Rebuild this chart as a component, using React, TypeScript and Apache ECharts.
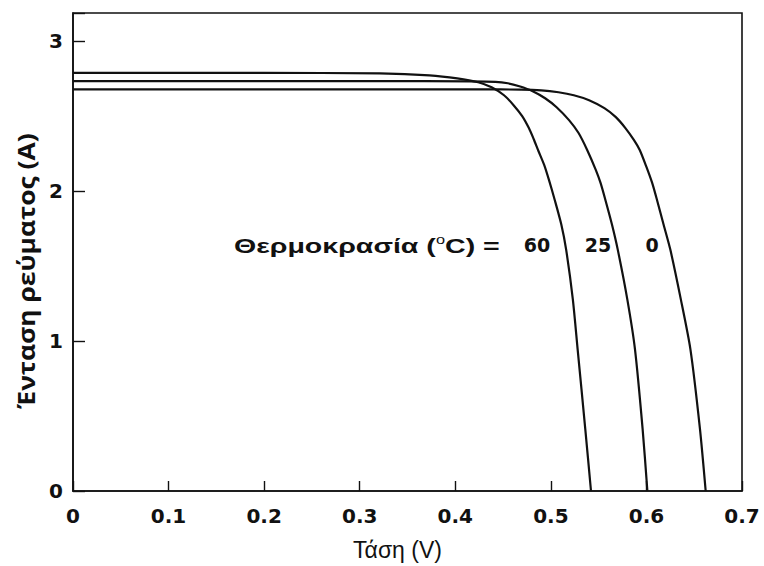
import React, { useEffect, useRef } from "react";
import * as echarts from "echarts";

// I–V curves of a solar cell at three temperatures (°C)
const temperatures = ["60", "25", "0"];

const voltage60 = [0, 0.1, 0.2, 0.321, 0.373, 0.402, 0.424, 0.438, 0.451, 0.461, 0.47, 0.477, 0.482, 0.487, 0.493, 0.498, 0.504, 0.511, 0.516, 0.523, 0.528, 0.536, 0.542];
const current60 = [2.79, 2.79, 2.79, 2.787, 2.774, 2.754, 2.728, 2.694, 2.641, 2.575, 2.502, 2.422, 2.349, 2.269, 2.176, 2.076, 1.944, 1.777, 1.611, 1.279, 0.947, 0.415, 0];

const voltage25 = [0, 0.1, 0.2, 0.321, 0.415, 0.442, 0.455, 0.467, 0.481, 0.494, 0.506, 0.519, 0.529, 0.538, 0.547, 0.552, 0.557, 0.564, 0.57, 0.58, 0.588, 0.596, 0.601];
const current25 = [2.735, 2.735, 2.735, 2.735, 2.734, 2.731, 2.721, 2.701, 2.668, 2.621, 2.561, 2.475, 2.389, 2.276, 2.143, 2.056, 1.944, 1.777, 1.611, 1.279, 0.947, 0.415, 0];

const voltage0 = [0, 0.1, 0.2, 0.3, 0.426, 0.469, 0.49, 0.508, 0.524, 0.54, 0.556, 0.568, 0.578, 0.587, 0.593, 0.6, 0.606, 0.611, 0.618, 0.625, 0.636, 0.646, 0.656, 0.662];
const current0 = [2.68, 2.68, 2.68, 2.68, 2.68, 2.679, 2.674, 2.661, 2.641, 2.608, 2.555, 2.495, 2.422, 2.342, 2.276, 2.163, 2.056, 1.944, 1.777, 1.611, 1.279, 0.947, 0.415, 0];

const xTicks = [0, 0.1, 0.2, 0.3, 0.4, 0.5, 0.6, 0.7];
const yTicks = [0, 1, 2, 3];

const seriesData = [
  { name: temperatures[0], v: voltage60, i: current60 },
  { name: temperatures[1], v: voltage25, i: current25 },
  { name: temperatures[2], v: voltage0, i: current0 },
];

const LABEL_FONT = "'DejaVu Sans', sans-serif";
const ARIAL = "'Liberation Sans', Arial, sans-serif";

export default function App() {
  const ref = useRef<HTMLDivElement>(null);

  useEffect(() => {
    if (!ref.current) return;
    const chart = echarts.init(ref.current, undefined, { renderer: "svg" });
    chart.setOption({
      animation: false,
      backgroundColor: "#ffffff",
      grid: {
        left: 73,
        right: 22,
        top: 13,
        bottom: 74,
        show: true,
        borderColor: "#111",
        borderWidth: 1.6,
        containLabel: false,
      },
      xAxis: {
        type: "value",
        min: xTicks[0],
        max: xTicks[xTicks.length - 1],
        interval: 0.1,
        name: "Τάση (V)",
        nameLocation: "middle",
        nameGap: 47,
        nameTextStyle: {
          fontFamily: ARIAL,
          fontSize: 23,
          color: "#111",
          padding: [0, 20, 0, 0],
        },
        axisLine: { show: true, lineStyle: { color: "#111", width: 1.6 } },
        axisTick: { show: true, inside: true, length: 10, lineStyle: { color: "#111", width: 1.4 } },
        axisLabel: {
          margin: 15,
          fontFamily: LABEL_FONT,
          fontWeight: "bold",
          fontSize: 20,
          color: "#111",
          formatter: (v: number) => (v === 0 ? "0" : v.toFixed(1)),
        },
        splitLine: { show: false },
      },
      yAxis: {
        type: "value",
        min: yTicks[0],
        max: 3.19,
        interval: 1,
        axisLine: { show: true, lineStyle: { color: "#111", width: 1.6 } },
        axisTick: { show: true, inside: true, length: 12, lineStyle: { color: "#111", width: 1.4 } },
        axisLabel: {
          margin: 10,
          fontFamily: LABEL_FONT,
          fontWeight: "bold",
          fontSize: 20,
          color: "#111",
          formatter: (v: number) => (yTicks.indexOf(v) >= 0 ? String(v) : ""),
        },
        splitLine: { show: false },
      },
      series: seriesData.map((s) => ({
        name: s.name,
        type: "line",
        smooth: 0.25,
        showSymbol: false,
        symbol: "none",
        lineStyle: { color: "#111", width: 2.2 },
        data: s.v.map((v, k) => [v, s.i[k]]),
      })),
      graphic: [
        {
          type: "text",
          x: 25,
          y: 271,
          rotation: Math.PI / 2,
          scaleX: 1.1,
          style: {
            text: "Ένταση ρεύματος (A)",
            align: "center",
            verticalAlign: "middle",
            font: "bold 24px 'Open Sans', sans-serif",
            fill: "#111",
          },
        },
        {
          type: "text",
          x: 234,
          y: 245,
          scaleX: 1.36,
          style: {
            text: "{a|Θερμοκρασία (}{s|o}{a|C) =}",
            verticalAlign: "middle",
            align: "left",
            rich: {
              a: {
                fontFamily: ARIAL,
                fontWeight: "bold",
                fontSize: 21,
                fill: "#111",
                lineHeight: 22,
              },
              s: {
                fontFamily: ARIAL,
                fontSize: 12,
                fill: "#111",
                verticalAlign: "top",
                lineHeight: 22,
                padding: [0, 0, 8, 0],
              },
            },
          },
        },
        {
          type: "text",
          x: 537,
          y: 245,
          style: {
            text: temperatures[0],
            align: "center",
            verticalAlign: "middle",
            font: "bold 19px 'DejaVu Sans', sans-serif",
            fill: "#111",
          },
        },
        {
          type: "text",
          x: 598,
          y: 245,
          style: {
            text: temperatures[1],
            align: "center",
            verticalAlign: "middle",
            font: "bold 19px 'DejaVu Sans', sans-serif",
            fill: "#111",
          },
        },
        {
          type: "text",
          x: 652,
          y: 245,
          style: {
            text: temperatures[2],
            align: "center",
            verticalAlign: "middle",
            font: "bold 19px 'DejaVu Sans', sans-serif",
            fill: "#111",
          },
        },
      ],
    });
    return () => chart.dispose();
  }, []);

  return (
    <div
      ref={ref}
      style={{ position: "absolute", left: 0, top: 0, width: 764, height: 566, background: "#fff" }}
    />
  );
}
